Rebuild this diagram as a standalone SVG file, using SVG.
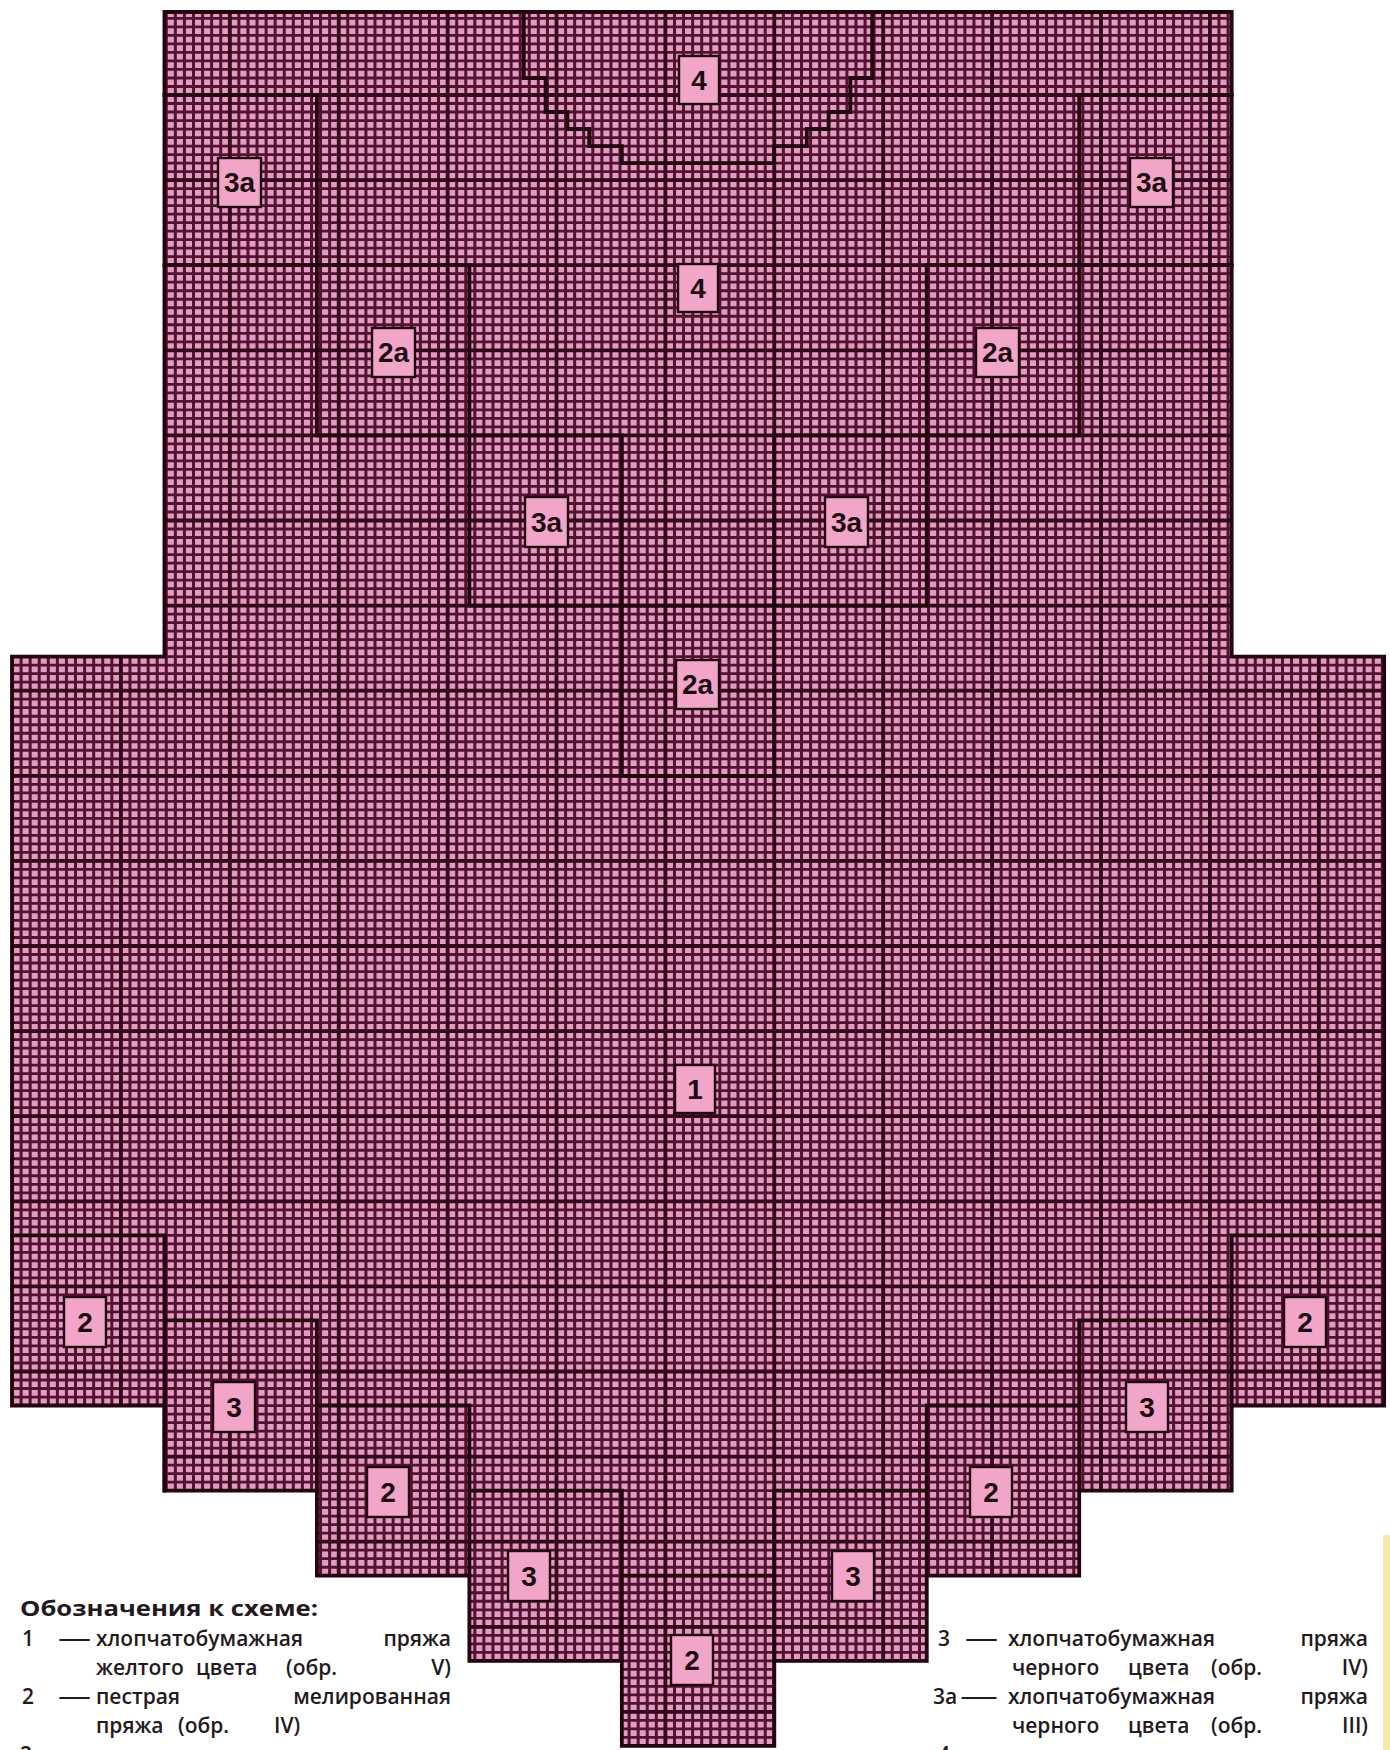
<svg xmlns="http://www.w3.org/2000/svg" width="1390" height="1750" viewBox="0 0 1390 1750">
<style>
.fine{stroke:#521232;fill:none}
.major{stroke:#34071b;fill:none}
.bnd{stroke:#22030e;stroke-width:3.8;fill:none;stroke-linejoin:miter;stroke-linecap:square}
.lbl rect{fill:#f0a5c9;stroke:#22030e;stroke-width:2.4}
.lbl text{font-family:"Liberation Sans",Arial,sans-serif;font-weight:bold;font-size:28px;fill:#1e0812;text-anchor:middle}
.lg{font-family:"Open Sans","Noto Sans","Liberation Sans",Arial,sans-serif;font-size:21px;font-weight:600;fill:#231a1e}
.e{text-anchor:end}
</style>
<defs>
<clipPath id="bodyClip">
<path id="outlineShape" d="M164.46 12 H1231.68 V656.7 H1384.14 V1405.5 H1231.68 V1490.6 H1079.22 V1575.7 H926.76 V1660.8 H774.3 V1745.9 H621.84 V1660.8 H469.38 V1575.7 H316.92 V1490.6 H164.46 V1405.5 H12 V656.7 H164.46 Z"/>
</clipPath>
</defs>
<rect width="1390" height="1750" fill="#ffffff"/>
<rect x="1383" y="1535" width="7" height="215" fill="#f3e8b0"/>

<g id="chart-grid" clip-path="url(#bodyClip)">
<rect x="0" y="0" width="1390" height="1750" fill="#e29bc1"/>
<line class="fine" x1="10.5" y1="880" x2="1390" y2="880" stroke-width="1760" stroke-dasharray="3 6.075"/>
<line class="fine" x1="698" y1="8.5" x2="698" y2="1750" stroke-width="1400" stroke-dasharray="2.8 5.71"/>
<line class="major" x1="10.1" y1="880" x2="1390" y2="880" stroke-width="1760" stroke-dasharray="3.8 105.1"/>
<line class="major" x1="698" y1="8" x2="698" y2="1750" stroke-width="1400" stroke-dasharray="3.8 81.3"/>
</g>

<g id="regions">
<use href="#outlineShape" class="bnd"/>
<path class="bnd" d="M164.46 95 H316.92 M316.92 95 V435.4 M164.46 265.2 H469.38 M469.38 265.2 V605.6 M316.92 435.4 H621.84 M621.84 435.4 V775.8 M469.38 605.6 H926.76 M621.84 775.8 H774.3 M774.3 435.4 V775.8 M774.3 435.4 H1079.22 M926.76 265.2 V605.6 M926.76 265.2 H1231.68 M1079.22 95 V435.4 M1079.22 95 H1231.68"/>
<path class="bnd" stroke-width="3" d="M523.8 12 V78 H545.6 V112 H567.4 V129 H589.2 V146.1 H621.8 V163.1 H774.1 V146.1 H806.8 V129 H828.6 V112 H850.4 V78 H872.2 V12"/>
<path class="bnd" d="M12 1235.3 H164.46 V1490.6 M164.46 1320.4 H316.92 V1490.6 M316.92 1405.5 H469.38 V1575.7 M469.38 1490.6 H621.84 V1660.8 M621.84 1575.7 H774.3 M774.3 1490.6 V1660.8 M774.3 1490.6 H926.76 M926.76 1405.5 H1079.22 M926.76 1405.5 V1575.7 M1079.22 1320.4 H1231.68 M1079.22 1320.4 V1490.6 M1231.68 1235.3 H1384.14 M1231.68 1235.3 V1405.5"/>
</g>

<g id="labels">
<g id="lbl-4-top" class="lbl"><rect x="679" y="56" width="40" height="48"/><text x="699" y="90">4</text></g>
<g id="lbl-4-mid" class="lbl"><rect x="678" y="264" width="40" height="48"/><text x="698" y="298">4</text></g>
<g id="lbl-3a-l" class="lbl"><rect x="218" y="158" width="43" height="49"/><text x="239.5" y="192">3a</text></g>
<g id="lbl-3a-r" class="lbl"><rect x="1130" y="158" width="43" height="49"/><text x="1151.5" y="192">3a</text></g>
<g id="lbl-2a-l" class="lbl"><rect x="372" y="328" width="43" height="49"/><text x="393.5" y="362">2a</text></g>
<g id="lbl-2a-r" class="lbl"><rect x="976" y="328" width="43" height="49"/><text x="997.5" y="362">2a</text></g>
<g id="lbl-3a-cl" class="lbl"><rect x="525" y="497" width="43" height="50"/><text x="546.5" y="532">3a</text></g>
<g id="lbl-3a-cr" class="lbl"><rect x="825" y="497" width="43" height="50"/><text x="846.5" y="532">3a</text></g>
<g id="lbl-2a-c" class="lbl"><rect x="676" y="660" width="43" height="49"/><text x="697.5" y="694">2a</text></g>
<g id="lbl-1" class="lbl"><rect x="675" y="1065" width="40" height="48"/><text x="695" y="1099">1</text></g>
<g id="lbl-2-l" class="lbl"><rect x="64" y="1297" width="42" height="50"/><text x="85" y="1332">2</text></g>
<g id="lbl-2-r" class="lbl"><rect x="1284" y="1297" width="42" height="50"/><text x="1305" y="1332">2</text></g>
<g id="lbl-3-l" class="lbl"><rect x="213" y="1382" width="42" height="50"/><text x="234" y="1417">3</text></g>
<g id="lbl-3-r" class="lbl"><rect x="1126" y="1382" width="42" height="50"/><text x="1147" y="1417">3</text></g>
<g id="lbl-2-ml" class="lbl"><rect x="367" y="1467" width="42" height="50"/><text x="388" y="1502">2</text></g>
<g id="lbl-2-mr" class="lbl"><rect x="970" y="1467" width="42" height="50"/><text x="991" y="1502">2</text></g>
<g id="lbl-3-bl" class="lbl"><rect x="508" y="1551" width="42" height="50"/><text x="529" y="1586">3</text></g>
<g id="lbl-3-br" class="lbl"><rect x="832" y="1551" width="42" height="50"/><text x="853" y="1586">3</text></g>
<g id="lbl-2-c" class="lbl"><rect x="671" y="1635" width="42" height="50"/><text x="692" y="1670">2</text></g>
</g>

<g id="legend-left" class="lg">
<text x="20" y="1616" font-weight="bold" font-size="22" textLength="298" lengthAdjust="spacingAndGlyphs">Обозначения к схеме:</text>
<text x="22" y="1646">1</text><text x="58" y="1646" textLength="33" lengthAdjust="spacingAndGlyphs">—</text>
<text x="96" y="1646">хлопчатобумажная</text><text class="e" x="451" y="1646">пряжа</text>
<text x="96" y="1675">желтого</text><text x="196" y="1675">цвета</text><text x="286" y="1675">(обр.</text><text class="e" x="451" y="1675">V)</text>
<text x="22" y="1704">2</text><text x="58" y="1704" textLength="33" lengthAdjust="spacingAndGlyphs">—</text>
<text x="96" y="1704">пестрая</text><text class="e" x="451" y="1704">мелированная</text>
<text x="96" y="1733">пряжа</text><text x="178" y="1733">(обр.</text><text x="274" y="1733">IV)</text>
<text x="20" y="1762">2а</text><text x="50" y="1762" textLength="41" lengthAdjust="spacingAndGlyphs">—</text>
<text x="96" y="1762">пестрая</text><text class="e" x="451" y="1762">мелированная</text>
</g>

<g id="legend-right" class="lg">
<text x="938" y="1646">3</text><text x="965" y="1646" textLength="33" lengthAdjust="spacingAndGlyphs">—</text>
<text x="1008" y="1646">хлопчатобумажная</text><text class="e" x="1368" y="1646">пряжа</text>
<text x="1012" y="1675">черного</text><text x="1128" y="1675">цвета</text><text x="1211" y="1675">(обр.</text><text class="e" x="1368" y="1675">IV)</text>
<text x="933" y="1704">3а</text><text x="960" y="1704" textLength="38" lengthAdjust="spacingAndGlyphs">—</text>
<text x="1008" y="1704">хлопчатобумажная</text><text class="e" x="1368" y="1704">пряжа</text>
<text x="1012" y="1733">черного</text><text x="1128" y="1733">цвета</text><text x="1211" y="1733">(обр.</text><text class="e" x="1368" y="1733">III)</text>
<text x="938" y="1762">4</text><text x="965" y="1762" textLength="33" lengthAdjust="spacingAndGlyphs">—</text>
<text x="1008" y="1762">ангорская</text><text x="1150" y="1762">пряжа</text><text class="e" x="1368" y="1762">черного</text>
</g>
</svg>
